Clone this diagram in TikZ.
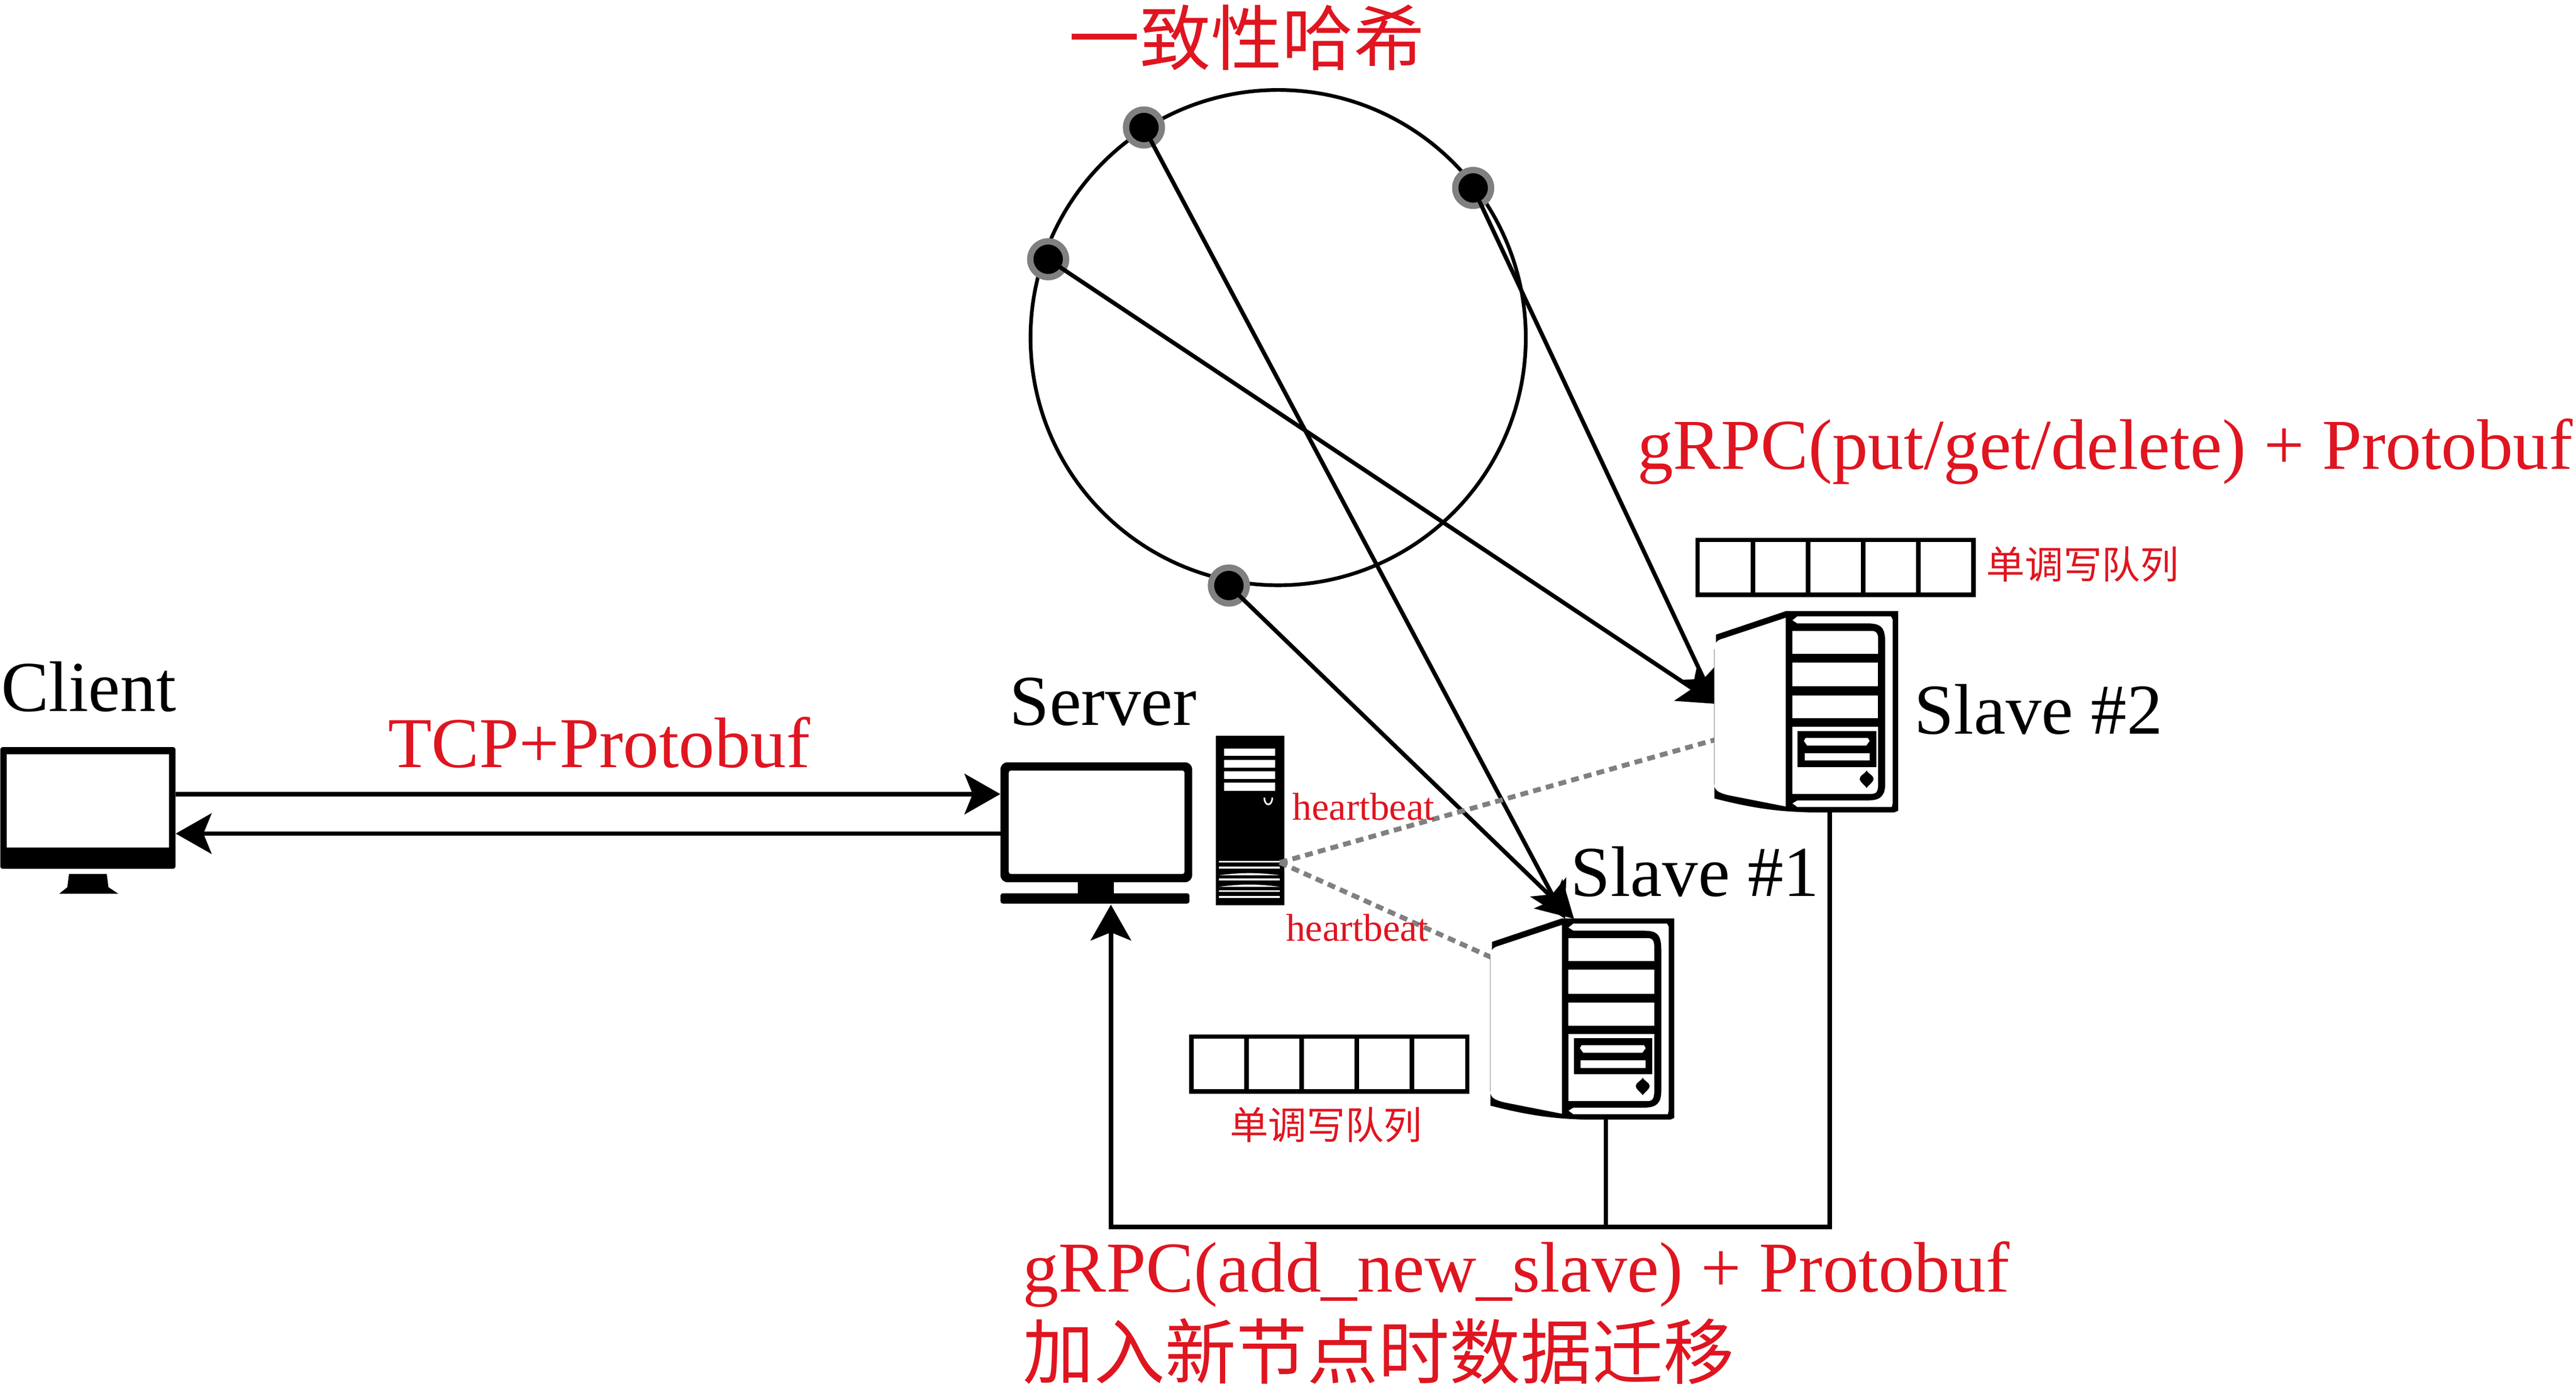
\documentclass[tikz,border=0pt]{standalone}
\usepackage{fontspec}
\setmainfont{Liberation Serif}
\newfontfamily\cjkfont{Noto Sans CJK SC}
\usetikzlibrary{arrows.meta}
\definecolor{labelred}{HTML}{DF1520}
\tikzset{
    towericon/.pic={
        \begin{scope}[shift={(-12.7,-61.25)}]
            % case and side wedges
            \fill (-42.5,14.3) -- (0,0) -- (68.4,0) -- (68.4,121.5) -- (66,122.5) -- (15,122.5)
                .. controls (-5,122) and (-20,120) .. (-43.5,114) -- cycle;
            \fill[white] (-43.5,23) .. controls (-43.5,19) and (-41.5,17.5) .. (-38,16.6) -- (0,4)
                -- (0,118.9) -- (-35,112) .. controls (-41,110.5) and (-43.5,109) .. (-43.5,105.5) -- cycle;
            \draw[gray, line width=0.4pt] (-43.5,23) -- (-43.5,105.5);
            % front
            \fill[white] (4,5.6) -- (7,3.2) -- (64,3.2) -- (65,5) -- (65,117) -- (64.5,119.2) -- (7,119.2) -- (4,117) -- cycle;
            \fill (3,5.6) -- (4,5.6) -- (7,7.5) -- (50,7.5) .. controls (58,7.5) and (60.5,10) .. (60.5,19) -- (60.5,105)
                .. controls (60.5,112) and (58,115.2) .. (50,115.2) -- (7,115.2) -- (4,117) -- (3,117) -- cycle;
            \fill[white] (4,12) -- (52,12) .. controls (55,12) and (56.2,13.5) .. (56.2,17) -- (56.2,26) -- (4,26) -- cycle;
            \fill[white] (4,31.3) rectangle (56.2,45.8);
            \fill[white] (4,51.2) rectangle (56.2,65.3);
            \fill[white] (4,70.4) -- (56.2,70.4) -- (56.2,105) .. controls (56.2,110) and (55,111.2) .. (52,111.2) -- (4,111.2) -- cycle;
            % drive bays and button
            \fill (7.2,72.9) rectangle (55,95);
            \fill[white] (12,77.2) -- (50,77.2) -- (51,79) -- (49,81.8) -- (13,81.8) -- (11,79) -- cycle;
            \fill[white] (11.5,86.5) rectangle (51,91);
            \fill (49.2,97) .. controls (50.2,99) and (53.4,100) .. (53.4,102)
                .. controls (53.4,104) and (50.2,106) .. (49.2,107.6)
                .. controls (48.2,106) and (45,104) .. (45,102)
                .. controls (45,100) and (48.2,99) .. (49.2,97) -- cycle;
        \end{scope}
    }
}
\begin{document}
\begin{tikzpicture}[
        x=0.05cm, y=-0.05cm,
        ringline/.style={draw, line width=3.2pt, circle, inner sep=0pt, minimum size=428.9pt},
        hashpoint/.style={circle, fill=black, draw=gray, line width=5.5pt, inner sep=0pt, minimum size=31pt},
        link/.style={line width=3.6pt, -{Stealth[length=31pt, width=35pt, inset=7pt]}},
        plainwire/.style={line width=3.8pt},
        wire/.style={plainwire, -{Stealth[length=31pt, width=35pt, inset=7pt]}},
        beatline/.style={gray, line width=4.2pt, dash pattern=on 6.8pt off 4.6pt},
        slavebox/.style={rectangle, inner sep=0pt, outer sep=0pt, minimum width=158pt, minimum height=173.6pt},
        qcell/.style={draw, line width=3.7pt, inner sep=0pt, outer sep=0pt, minimum size=47.6pt},
        blacklabel/.style={anchor=base west, inner sep=0pt, font=\fontsize{62pt}{70pt}\selectfont},
        redlabel/.style={anchor=base west, inner sep=0pt, text=labelred, font=\fontsize{62pt}{70pt}\selectfont},
        redsmall/.style={anchor=base west, inner sep=0pt, text=labelred, font=\fontsize{33.6pt}{38pt}\selectfont},
        redcjk/.style={anchor=base west, inner sep=0pt, text=labelred, font=\cjkfont\fontsize{61.6pt}{70pt}\selectfont},
        redcjksmall/.style={anchor=base west, inner sep=0pt, text=labelred, font=\cjkfont\fontsize{33.3pt}{38pt}\selectfont}
    ]
    \useasboundingbox (0,0) rectangle (1568,845.24);

    % hash ring
    \node[ringline] (hashring) at (778,205.5) {};
    \node[hashpoint] (pointa) at (696.3,77.6) {};
    \node[hashpoint] (pointb) at (638,157.8) {};
    \node[hashpoint] (pointc) at (896.7,114.4) {};
    \node[hashpoint] (pointd) at (748,356.4) {};

    % client
    \node[rectangle, fill=black, rounded corners=2pt, inner sep=0pt, minimum width=151.7pt, minimum height=105.4pt] (client) at (53.5,491.8) {};
    \fill[white] (4,459) rectangle (103,516);
    \fill (42,532) -- (65,532) -- (66,540) -- (72,544) -- (36,544) -- (41,540) -- cycle;

    % server
    \node[rectangle, inner sep=0pt, outer sep=0pt, minimum width=165.3pt, minimum height=123pt] (server) at (667,507.4) {};
    \fill[rounded corners=6pt] (609,464) rectangle (725.6,537);
    \fill[white, rounded corners=2pt] (614,469) rectangle (721,532);
    \fill (656,537) rectangle (678,544);
    \fill[rounded corners=2pt] (609,543.7) -- (724,543.7) -- (724,550) -- (609,550) -- cycle;

    \node[rectangle, fill=black, inner sep=0pt, minimum width=59.5pt, minimum height=146.7pt] (srvtower) at (761,499.3) {};
    \foreach \ya/\yb in {455.6/460, 462.6/467.4, 469.6/474.3, 476.3/481.3}
        \fill[white] (745,\ya) rectangle (776,\yb);
    \draw[white, line width=1.4pt] (769.6,485.5) .. controls (769.6,491) and (774.4,491) .. (774.4,485.5);
    \foreach \ya in {524.5, 528.1, 535.3, 542.3, 546}
        \fill[white] (742,\ya-0.5) rectangle (779,\ya+0.5);
    \foreach \ya in {532.8, 539.8}
        \fill[white] (742,\ya) .. controls (755,\ya-1.8) and (766,\ya-1.8) .. (779,\ya) -- cycle;
    \coordinate (beatsrc) at (779,525);

    % slaves, arrows go below their icons
    \node[slavebox] (slave1) at (963.4,620.25) {};
    \node[slavebox] (slave2) at (1099.7,433.25) {};

    \draw[link] (pointa.center) -- (slave1.100);
    \draw[link] (pointd.center) -- (slave1.95);
    \draw[link] (pointb.center) -- (slave2.175);
    \draw[link] (pointc.center) -- (slave2.175);

    \draw[beatline] (beatsrc) -- (slave2.197);
    \draw[beatline] (beatsrc) -- (slave1.146);

    \pic at (slave1) {towericon};
    \pic at (slave2) {towericon};

    % client and server traffic
    \draw[wire] (client.9.3) -- (client.9.3 -| server.west);
    \draw[wire] (server.west) -- (client.east |- server.west);

    % new slave path
    \path (slave1.-77.75) ++(0,65.5) coordinate (busjoin);
    \draw[plainwire] (slave1.-77.75) -- (busjoin);
    \draw[wire] (slave2.-77.75) |- (busjoin) -| (server.-78.2);

    % write queues
    \foreach \i in {0,...,4} {
        \node[qcell] (queuea\i) at (741.9+33.6*\i,647.65) {};
        \node[qcell] (queueb\i) at (1050.1+33.6*\i,345.35) {};
    }

    % labels
    \node[redcjk] (titlelabel) at (650.5,39.5) {一致性哈希};
    \node[blacklabel] (clientlabel) at (0.5,433) {Client};
    \node[blacklabel] (serverlabel) at (614.5,441.3) {Server};
    \node[redlabel] (tcplabel) at (236,467) {TCP+Protobuf};
    \node[blacklabel] (slaveonelabel) at (956,545.6) {Slave \#1};
    \node[blacklabel] (slavetwolabel) at (1165,446.7) {Slave \#2};
    \node[redsmall] (beatonelabel) at (786.6,499) {heartbeat};
    \node[redsmall] (beattwolabel) at (782.7,572.7) {heartbeat};
    \node[redcjksmall] (queuetwolabel) at (1209,352.2) {单调写队列};
    \node[redcjksmall] (queueonelabel) at (748.5,693.5) {单调写队列};
    \node[redlabel] (putlabel) at (996.5,285.5) {gRPC(put/get/delete) + Protobuf};
    \node[redlabel] (addlabel) at (622.5,786.3) {gRPC(add\_new\_slave) + Protobuf};
    \node[redcjk] (migratelabel) at (622.5,839) {加入新节点时数据迁移};
\end{tikzpicture}
\end{document}
